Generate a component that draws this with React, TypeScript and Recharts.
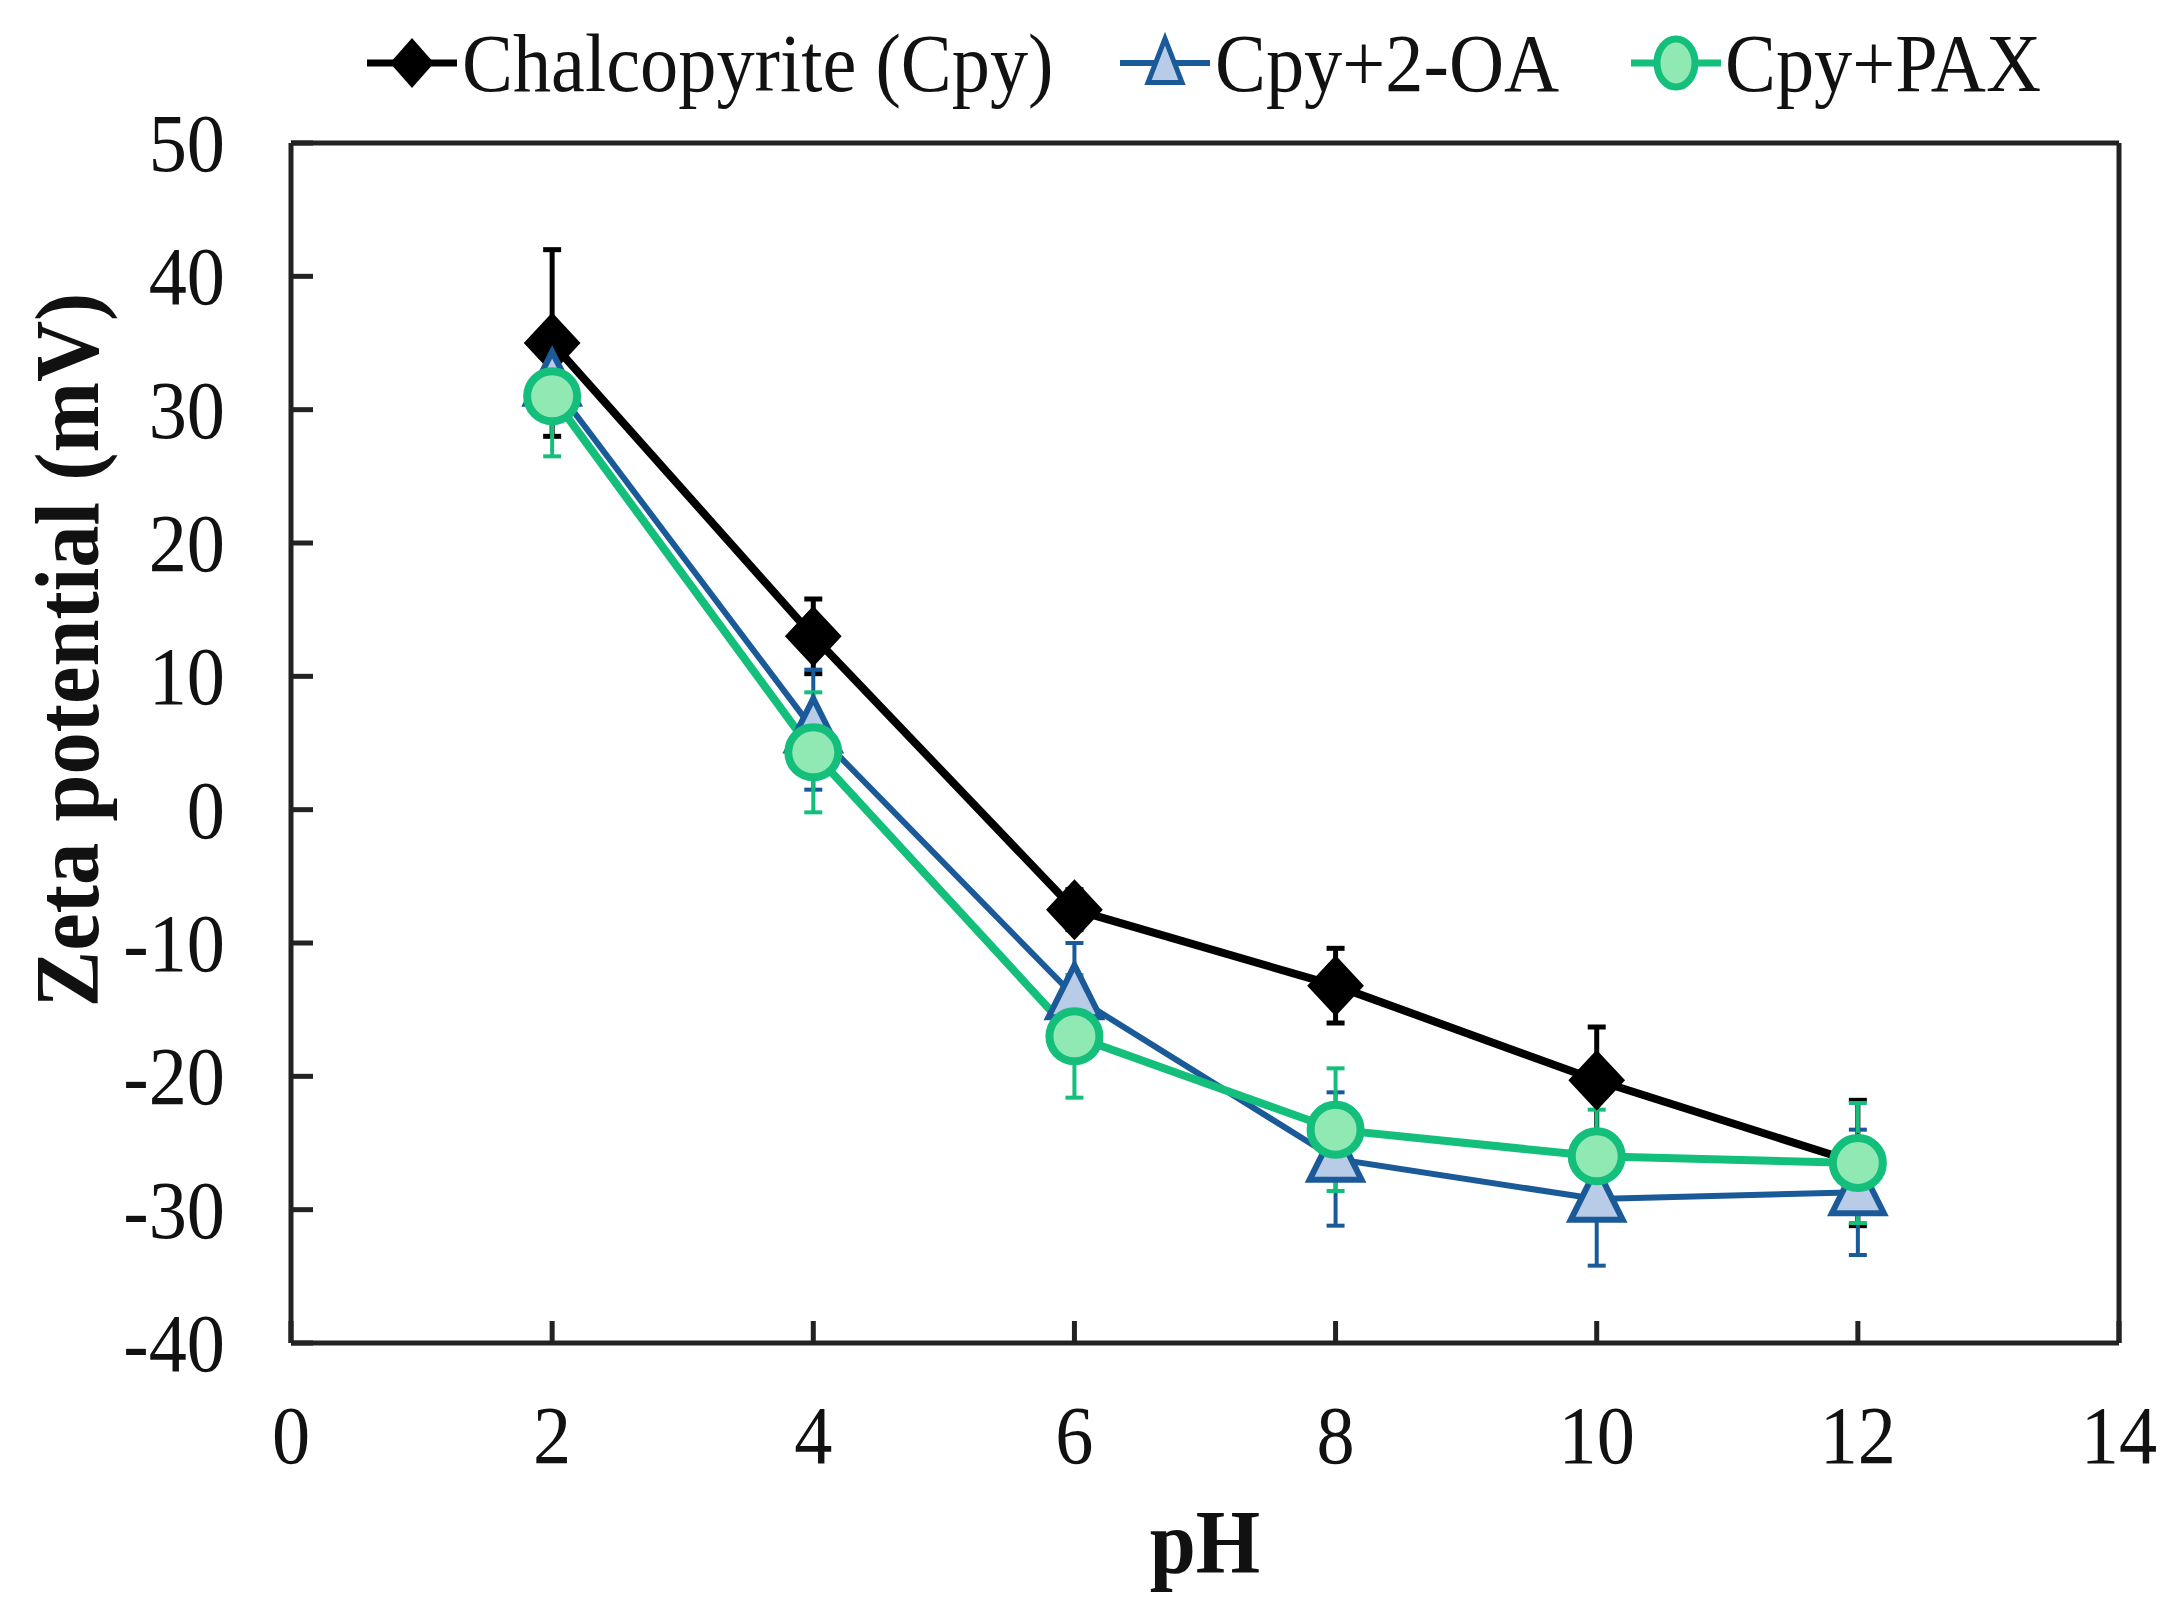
import { LineChart, Line, XAxis, YAxis, ErrorBar } from 'recharts';

const phValues = [2, 4, 6, 8, 10, 12];
const cpy = [35, 13, -7.5, -13.2, -20.3, -26.5];
const cpyErr = [7, 2.8, 1.5, 2.8, 4, 4.7];
const oa = [32, 6, -14, -26.2, -29.2, -28.7];
const oaErr = [2.5, 4.5, 4, 5, 5, 4.7];
const pax = [31, 4.3, -17, -24, -26, -26.5];
const paxErr = [4.5, 4.5, 4.6, 4.6, 3.5, 4.5];

const xTicks = [0, 2, 4, 6, 8, 10, 12, 14];
const yTicks = [-40, -30, -20, -10, 0, 10, 20, 30, 40, 50];

const data = phValues.map((ph, i) => ({
  ph,
  cpy: cpy[i],
  cpyErr: cpyErr[i],
  oa: oa[i],
  oaErr: oaErr[i],
  pax: pax[i],
  paxErr: paxErr[i],
}));

const FONT = '"Liberation Serif", "Times New Roman", serif';
const AXIS = '#222';
const BLUE = '#1b5a98';
const BLUE_FILL = '#b8cce8';
const GREEN = '#14bf7c';
const GREEN_FILL = '#90e8b2';

const YTick = (props: any) => {
  const { x, y, payload } = props;
  return (
    <g>
      <line x1={x} x2={x + 22} y1={y} y2={y} stroke={AXIS} strokeWidth={5} />
      <text
        transform={`translate(${x - 66},${y}) scale(0.92,1)`}
        textAnchor='end'
        dominantBaseline='central'
        fontSize={83}
        fontFamily={FONT}
        fill='#111'
      >
        {payload.value}
      </text>
    </g>
  );
};

const XTick = (props: any) => {
  const { x, y, payload } = props;
  return (
    <g>
      <line x1={x} x2={x} y1={y} y2={y - 22} stroke={AXIS} strokeWidth={5} />
      <text
        transform={`translate(${x},${y + 92}) scale(0.92,1)`}
        textAnchor='middle'
        dominantBaseline='central'
        fontSize={83}
        fontFamily={FONT}
        fill='#111'
      >
        {payload.value}
      </text>
    </g>
  );
};

const diamond = (cx: number, cy: number, w: number, h: number) =>
  `${cx},${cy - h / 2} ${cx + w / 2},${cy} ${cx},${cy + h / 2} ${cx - w / 2},${cy}`;

const triangle = (cx: number, cy: number, w: number, h: number) =>
  `${cx},${cy - h * 0.6} ${cx + w / 2},${cy + h * 0.4} ${cx - w / 2},${cy + h * 0.4}`;

const DiamondDot = (p: any) => (
  <polygon key={`d${p.index}`} points={diamond(p.cx, p.cy, 54, 58)} fill='#000' stroke='#000' strokeWidth={2} />
);

const TriangleDot = (p: any) => (
  <polygon
    key={`t${p.index}`}
    points={triangle(p.cx, p.cy, 52, 52)}
    fill={BLUE_FILL}
    stroke={BLUE}
    strokeWidth={6}
    strokeLinejoin='miter'
  />
);

const CircleDot = (p: any) => (
  <circle key={`c${p.index}`} cx={p.cx} cy={p.cy} r={25} fill={GREEN_FILL} stroke={GREEN} strokeWidth={8} />
);

function LegendRow() {
  const y = 63;
  return (
    <svg width={2169} height={130} style={{ position: 'absolute', left: 0, top: 0 }}>
      <line x1={367} x2={457} y1={y} y2={y} stroke='#000' strokeWidth={7} />
      <polygon points={diamond(412, y, 44, 50)} fill='#000' />
      <text transform={`translate(462,${y}) scale(0.92,1)`} dominantBaseline='central' fontSize={83} fontFamily={FONT} fill='#111'>
        Chalcopyrite (Cpy)
      </text>

      <line x1={1120} x2={1210} y1={y} y2={y} stroke={BLUE} strokeWidth={6} />
      <polygon points={triangle(1165, y + 2, 34, 44)} fill={BLUE_FILL} stroke={BLUE} strokeWidth={5} />
      <text transform={`translate(1215,${y}) scale(0.92,1)`} dominantBaseline='central' fontSize={83} fontFamily={FONT} fill='#111'>
        Cpy+2-OA
      </text>

      <line x1={1631} x2={1721} y1={y} y2={y} stroke={GREEN} strokeWidth={7} />
      <ellipse cx={1676} cy={y} rx={19} ry={24} fill={GREEN_FILL} stroke={GREEN} strokeWidth={7} />
      <text transform={`translate(1725,${y}) scale(0.92,1)`} dominantBaseline='central' fontSize={83} fontFamily={FONT} fill='#111'>
        Cpy+PAX
      </text>
    </svg>
  );
}

export default function App() {
  return (
    <div style={{ position: 'absolute', left: 0, top: 0, width: 2169, height: 1607, background: '#fff' }}>
      <LineChart width={2169} height={1607} data={data} margin={{ top: 142, right: 49, left: 290, bottom: 263 }}>
        <XAxis
          dataKey='ph'
          type='number'
          domain={[0, 14]}
          ticks={xTicks}
          interval={0}
          height={1}
          tickSize={0}
          tickMargin={0}
          tick={<XTick />}
          axisLine={{ stroke: AXIS, strokeWidth: 5 }}
          label={{
            content: (lp: any) => {
              const vb = lp.viewBox;
              return (
                <text
                  transform={`translate(${vb.x + vb.width / 2},${vb.y + 200}) scale(0.92,1)`}
                  textAnchor='middle'
                  dominantBaseline='central'
                  fontSize={90}
                  fontWeight='bold'
                  fontFamily={FONT}
                  fill='#111'
                >
                  pH
                </text>
              );
            },
          }}
        />
        <XAxis
          xAxisId='top'
          orientation='top'
          type='number'
          domain={[0, 14]}
          height={1}
          tick={false}
          tickLine={false}
          axisLine={{ stroke: AXIS, strokeWidth: 5 }}
        />
        <YAxis
          type='number'
          domain={[-40, 50]}
          ticks={yTicks}
          interval={0}
          width={1}
          tickSize={0}
          tickMargin={0}
          tick={<YTick />}
          axisLine={{ stroke: AXIS, strokeWidth: 5 }}
          label={{
            content: (lp: any) => {
              const vb = lp.viewBox;
              return (
                <text
                  transform={`translate(${vb.x + vb.width - 224},${vb.y + vb.height / 2 - 93}) rotate(-90) scale(0.92,1)`}
                  textAnchor='middle'
                  dominantBaseline='central'
                  fontSize={92}
                  fontWeight='bold'
                  fontFamily={FONT}
                  fill='#111'
                >
                  Zeta potential (mV)
                </text>
              );
            },
          }}
        />
        <YAxis
          yAxisId='right'
          orientation='right'
          type='number'
          domain={[-40, 50]}
          width={1}
          tick={false}
          tickLine={false}
          axisLine={{ stroke: AXIS, strokeWidth: 5 }}
        />
        <Line
          dataKey='cpy'
          type='linear'
          stroke='#000'
          strokeWidth={8}
          dot={DiamondDot}
          activeDot={false}
          isAnimationActive={false}
        >
          <ErrorBar dataKey='cpyErr' direction='y' width={9} strokeWidth={5} stroke='#000' />
        </Line>
        <Line
          dataKey='oa'
          type='linear'
          stroke={BLUE}
          strokeWidth={6}
          dot={TriangleDot}
          activeDot={false}
          isAnimationActive={false}
        >
          <ErrorBar dataKey='oaErr' direction='y' width={9} strokeWidth={4} stroke={BLUE} />
        </Line>
        <Line
          dataKey='pax'
          type='linear'
          stroke={GREEN}
          strokeWidth={8}
          dot={CircleDot}
          activeDot={false}
          isAnimationActive={false}
        >
          <ErrorBar dataKey='paxErr' direction='y' width={9} strokeWidth={4} stroke={GREEN} />
        </Line>
      </LineChart>
      <LegendRow />
    </div>
  );
}
